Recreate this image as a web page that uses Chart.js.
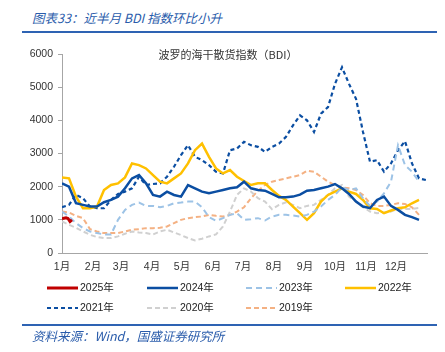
<!DOCTYPE html>
<html>
<head>
<meta charset="utf-8">
<script src="https://cdn.jsdelivr.net/npm/chart.js@4/dist/chart.umd.min.js"></script>
<style>
  body { margin: 0; width: 445px; height: 352px; background: #fff; position: relative; overflow: hidden; }
  #wrap { position: absolute; left: 0; top: 0; width: 445px; height: 352px; }
  .hdr { position: absolute; left: 32px; font: italic 12.5px "Noto Sans CJK SC", "Liberation Sans", sans-serif; color: #2a5cab; white-space: nowrap; }
  .rule { position: absolute; left: 22px; width: 415px; height: 2px; background: #2e63b3; }
</style>
</head>
<body>
<div class="hdr" style="top:8px">图表33：近半月 BDI 指数环比小升</div>
<div class="rule" style="top:31px"></div>
<div id="wrap"><canvas id="myChart" width="445" height="352"></canvas></div>
<div class="rule" style="top:324px"></div>
<div class="hdr" style="top:326px">资料来源：Wind，国盛证券研究所</div>
<script>
// weekly samples, day of year
const days = [0,7,14,21,28,35,42,49,56,63,70,77,84,91,98,105,112,119,126,133,140,147,154,161,168,175,182,189,196,203,210,217,224,231,238,245,252,259,266,273,280,287,294,301,308,315,322,329,336,343,350,357,364];

const days2025 = [0, 2, 4, 6, 8, 10];
const y2025 = [1030, 1050, 1060, 1040, 950, 1000];

const y2024 = [2100,2000,1500,1450,1400,1400,1530,1600,1700,1950,
  2250,2350,2100,1750,1700,1850,1750,1700,2050,1950,
  1850,1800,1850,1900,1950,1980,2150,1950,1900,1880,
  1780,1680,1680,1700,1760,1880,1900,1950,2000,2080,
  1950,1780,1550,1400,1350,1600,1700,1420,1300,1150,
  1080,1000,null];

const y2023 = [1250,1100,900,750,650,600,560,560,1000,1300,
  1450,1520,1420,1420,1380,1420,1500,1520,1550,1550,
  1380,1080,970,1050,1150,1200,1000,1020,1050,980,
  1100,1150,1150,1130,1100,1150,1250,1400,1600,1750,
  1980,1900,1950,1650,1420,1550,1800,2150,3250,2650,
  2450,2150,null];

const y2022 = [2280,2250,1700,1350,1350,1400,1900,2050,2100,2280,
  2700,2650,2550,2350,2150,2100,2250,2400,2700,3100,
  3300,2900,2550,2400,2500,2300,2170,2050,2100,2100,
  1900,1720,1600,1400,1200,1000,1200,1550,1750,1850,
  1950,1850,1780,1600,1350,1330,1200,1280,1350,1380,
  1500,1600,null];

const y2021 = [1380,1450,1750,1650,1400,1350,1350,1600,1780,1850,
  1950,2300,2050,2080,2100,2300,2600,2950,3250,2900,
  2800,2650,2450,2400,3100,3150,3350,3250,3200,3050,
  3200,3300,3500,3850,4150,4000,3650,4200,4400,5100,
  5600,5100,4650,3650,2750,2800,2450,2700,3100,3370,
  2700,2250,2200];

const y2020 = [950,850,760,650,550,480,450,450,500,580,
  650,620,600,560,650,700,620,540,450,380,
  430,500,560,800,1250,1750,1950,1850,1650,1550,
  1320,1450,1530,1450,1350,1420,1450,1600,1750,1950,
  2050,1700,1550,1380,1250,1200,1220,1250,1330,1330,
  1330,1360,null];

const y2019 = [1250,1220,1120,1050,720,650,600,600,600,650,
  700,720,750,750,760,800,900,1000,1050,1080,
  1100,1150,1120,1100,1150,1250,1380,1650,1880,2050,
  2150,2200,2250,2300,2350,2480,2450,2300,2150,2050,
  1980,1950,1900,1750,1500,1420,1420,1450,1500,1480,
  1380,1150,null];

const monthStarts = [0,31,59,90,120,151,181,212,243,273,304,334];
const monthLabels = ['1月','2月','3月','4月','5月','6月','7月','8月','9月','10月','11月','12月'];
const seriesNames = ['2025年','2024年','2023年','2022年','2021年','2020年','2019年'];
const chartTitle = '波罗的海干散货指数（BDI）';

function pts(xs, ys) {
  return xs.map((x, i) => ({ x: x, y: ys[i] }));
}

const FONT = '"Liberation Sans", "Noto Sans CJK SC", sans-serif';

const series = [
  { data: pts(days2025, y2025), color: '#c00000', width: 3, dash: [] },
  { data: pts(days, y2024), color: '#0b4ea2', width: 2.5, dash: [] },
  { data: pts(days, y2023), color: '#9dc3e6', width: 2, dash: [6, 4] },
  { data: pts(days, y2022), color: '#ffc000', width: 2.5, dash: [] },
  { data: pts(days, y2021), color: '#0b4ea2', width: 2.2, dash: [4, 3] },
  { data: pts(days, y2020), color: '#d0d0d0', width: 2, dash: [5, 3] },
  { data: pts(days, y2019), color: '#f4b183', width: 2, dash: [5, 3] }
];

// legend + title drawn by hand to match the layout
const legendCols = [47, 147, 246, 345];
const legendRows = [288, 308];
const extras = {
  id: 'extras',
  afterDraw(chart) {
    const ctx = chart.ctx;
    ctx.save();
    ctx.fillStyle = '#333';
    ctx.font = '11px "Noto Sans CJK SC", "Liberation Sans", sans-serif';
    ctx.textAlign = 'center';
    ctx.textBaseline = 'middle';
    ctx.fillText(chartTitle, 228, 55);

    ctx.textAlign = 'left';
    ctx.font = '10.5px ' + FONT;
    chart.data.datasets.forEach((ds, i) => {
      const x = legendCols[i < 4 ? i : i - 4];
      const y = legendRows[i < 4 ? 0 : 1];
      ctx.beginPath();
      ctx.strokeStyle = ds.borderColor;
      ctx.lineWidth = ds.borderWidth;
      ctx.setLineDash(ds.borderDash || []);
      ctx.moveTo(x, y);
      ctx.lineTo(x + 31, y);
      ctx.stroke();
      ctx.setLineDash([]);
      ctx.fillStyle = '#222';
      ctx.fillText(ds.label, x + 33, y + 0.5);
    });
    ctx.restore();
  }
};

const ctx = document.getElementById('myChart').getContext('2d');
const myChart = new Chart(ctx, {
  type: 'line',
  data: {
    datasets: series.map((s, i) => ({
      label: seriesNames[i],
      data: s.data,
      borderColor: s.color,
      backgroundColor: s.color,
      borderWidth: s.width,
      borderDash: s.dash,
      pointRadius: 0,
      tension: 0,
      spanGaps: false
    }))
  },
  options: {
    responsive: false,
    animation: false,
    devicePixelRatio: 1,
    layout: { padding: { left: 0, top: 54, right: 18, bottom: 69 } },
    plugins: { legend: { display: false }, tooltip: { enabled: false } },
    scales: {
      x: {
        type: 'linear',
        min: 0,
        max: 365,
        afterBuildTicks: (scale) => { scale.ticks = monthStarts.map(v => ({ value: v })); },
        afterFit: (scale) => { scale.height = 30; },
        ticks: {
          autoSkip: false,
          maxRotation: 0,
          padding: 8,
          color: '#333',
          font: { size: 10.5, family: FONT },
          callback: (v) => monthLabels[monthStarts.indexOf(v)]
        },
        grid: { display: false, drawTicks: false },
        border: { color: '#a6a6a6', width: 1 }
      },
      y: {
        min: 0,
        max: 6000,
        afterFit: (scale) => { scale.width = 62; },
        ticks: {
          stepSize: 1000,
          padding: 5,
          color: '#333',
          font: { size: 10.5, family: FONT },
          callback: (v) => String(v)
        },
        grid: { drawOnChartArea: false, drawTicks: true, tickLength: 4, color: '#a6a6a6' },
        border: { color: '#a6a6a6', width: 1 }
      }
    }
  },
  plugins: [extras]
});
</script>
</body>
</html>
